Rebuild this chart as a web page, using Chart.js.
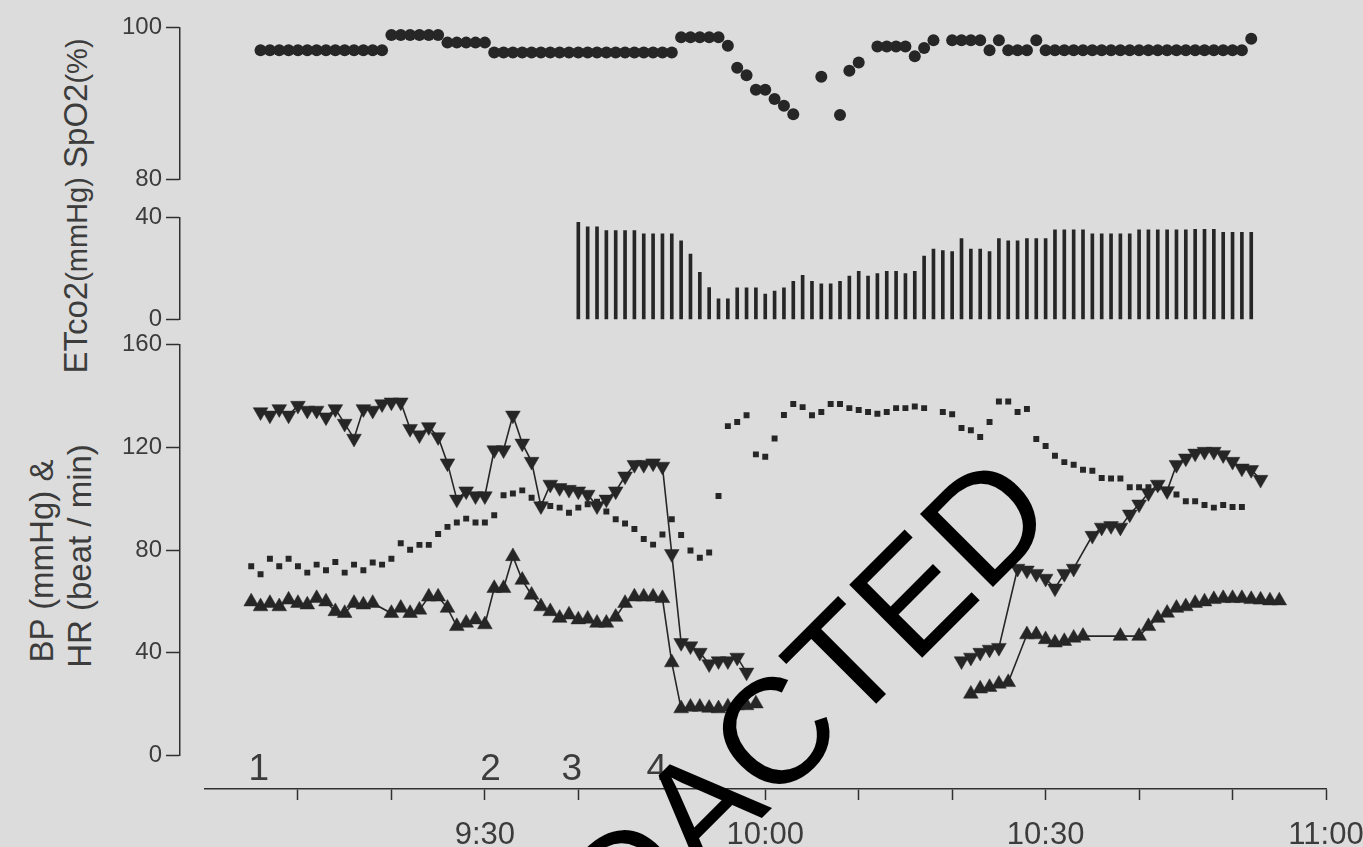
<!DOCTYPE html>
<html>
<head>
<meta charset="utf-8">
<script src="https://cdn.jsdelivr.net/npm/chart.js@4.4.1/dist/chart.umd.min.js"></script>
<style>
  html, body { margin: 0; padding: 0; }
  body { width: 1363px; height: 847px; background: #dcdcdc; position: relative; overflow: hidden;
         font-family: 'Liberation Sans', Arial, sans-serif; }
  canvas { position: absolute; left: 0; }
  .ytitle { position: absolute; color: #3c3c3c; white-space: nowrap; font-size: 33px;
            transform: translate(-50%, -50%) rotate(-90deg); }
  .ytitle small { font-size: 29px; }
</style>
</head>
<body>
<div class="ytitle" style="left:76px; top:206px;">ETco2<small>(mmHg)</small> SpO2<small>(%)</small></div>
<div class="ytitle" style="left:42px; top:561px;">BP (mmHg) &amp;</div>
<div class="ytitle" style="left:80px; top:556px;">HR (beat / min)</div>

<canvas id="spo2Chart" width="1363" height="189" style="top:9px"></canvas>
<canvas id="co2Chart" width="1363" height="139" style="top:199px"></canvas>
<canvas id="bpChart" width="1363" height="448" style="top:325.5px"></canvas>
<canvas id="timeAxis" width="1363" height="107" style="top:740px"></canvas>
<canvas id="stamp" width="1363" height="847" style="top:0"></canvas>

<script>
// one reading per minute, minute 0 = 9:00
var minutes = Array.from({ length: 121 }, function (_, i) { return i; });

var spo2 = [
    null, null, null, null, null, null, 97, 97, 97, 97,
    97, 97, 97, 97, 97, 97, 97, 97, 97, 97,
    99, 99, 99, 99, 99, 99, 98, 98, 98, 98,
    98, 96.7, 96.7, 96.7, 96.7, 96.7, 96.7, 96.7, 96.7, 96.7,
    96.7, 96.7, 96.7, 96.7, 96.7, 96.7, 96.7, 96.7, 96.7, 96.7,
    96.7, 98.7, 98.7, 98.7, 98.7, 98.7, 97.6, 94.7, 93.7, 91.8,
    91.8, 90.6, 89.7, 88.6, null, null, 93.5, null, 88.5, 94.3,
    95.4, null, 97.5, 97.5, 97.5, 97.5, 96.2, 97.3, 98.3, null,
    98.3, 98.3, 98.3, 98.3, 97, 98.3, 97, 97, 97, 98.3,
    97, 97, 97, 97, 97, 97, 97, 97, 97, 97,
    97, 97, 97, 97, 97, 97, 97, 97, 97, 97,
    97, 97, 98.5, null, null, null, null, null, null, null, null
];

var etco2 = [
    null, null, null, null, null, null, null, null, null, null,
    null, null, null, null, null, null, null, null, null, null,
    null, null, null, null, null, null, null, null, null, null,
    null, null, null, null, null, null, null, null, null, null,
    38.1, 36.3, 36.3, 34.8, 34.8, 34.8, 34.8, 33.6, 33.6, 33.6,
    33.6, 30.8, 25.6, 18.5, 12.5, 8.1, 8.1, 12.4, 12.4, 12.4,
    10, 11.2, 12.4, 15, 17.3, 15, 14, 14, 15, 17,
    18.9, 17, 18, 18.9, 18.9, 18, 18.9, 24.9, 27.6, 27,
    26.6, 31.7, 27.6, 27.6, 26.6, 31.7, 30.8, 30.8, 31.7, 31.7,
    31.7, 35.1, 35.1, 35.1, 35.1, 33.6, 33.6, 33.6, 33.6, 33.6,
    35.1, 35.1, 35.1, 35.1, 35.1, 35.1, 35.3, 35.3, 35.3, 34.2,
    34.2, 34.2, 34.2, null, null, null, null, null, null, null, null
];

var sysBP = [
    null, null, null, null, null, null, 133.7, 132.4, 134.9, 132.4,
    136.2, 134.3, 134.3, 131.7, 134.9, 129.2, 123.4, 134.9, 134.3, 136.8,
    137.5, 137.5, 127.2, 124.7, 127.9, 124, 113.8, 99.7, 102.9, 101,
    101, 118.9, 118.9, 132.4, 121.5, 114.4, 97.1, 105.5, 104.2, 103.5,
    102.9, 101.6, 97.1, 99.7, 102.9, 108.7, 113.2, 113.2, 113.8, 112.5,
    78.5, 43.9, 42.6, 40.1, 35.6, 36.8, 36.8, 38.2, 32.4, null,
    null, null, null, null, null, null, null, null, null, null,
    null, null, null, null, null, null, null, null, null, null,
    null, 36.8, 38.2, 40.1, 41.3, 42, null, 72.8, 72.1, 70.8,
    68.9, 65.1, 70.8, 72.8, null, 85.6, 88.8, 89.4, 88.8, 93.9,
    97.8, 102.2, 105.5, 103, 113.2, 115.7, 117.6, 118.3, 118.3, 117,
    114.4, 111.8, 111.2, 107.4, null, null, null, null, null, null, null
];

var diaBP = [
    null, null, null, null, null, 59.9, 58, 59.3, 58, 60.6,
    59.3, 58.7, 61.2, 59.9, 56.1, 55.4, 59.3, 58.7, 59.3, null,
    55.4, 57.4, 55.4, 56.7, 61.8, 61.8, 57.4, 50.3, 51.6, 52.9,
    51, 65.1, 65.1, 77.5, 68.3, 62.5, 58, 56.1, 53.5, 54.8,
    52.9, 53.2, 51.6, 51.6, 53.9, 59.3, 61.8, 61.8, 61.8, 61.2,
    36.2, 18.3, 18.9, 18.9, 18.5, 18.3, 19, 19.5, 19.5, 20.2,
    null, null, null, null, null, null, null, null, null, null,
    null, null, null, null, null, null, null, null, null, null,
    null, null, 24, 26, 26.6, 27.9, 28.5, null, 47.1, 47.1,
    45.2, 43.9, 44.5, 45.8, 46.5, null, null, null, 46.5, null,
    46.5, 50.3, 53.5, 55.5, 57.4, 58, 59.3, 59.9, 60.8, 61.2,
    61.2, 61.2, 60.8, 60.6, 60.3, 60.3, null, null, null, null, null
];

var heartRate = [
    null, null, null, null, null, 73.7, 70.6, 76.6, 73.7, 76.6,
    73.7, 71.2, 74.3, 72.1, 75.3, 71.2, 74.3, 72.1, 75.1, 74.3,
    76.6, 82.6, 80.1, 82, 82, 86.2, 89, 90.7, 92.2, 90.7,
    90.7, 93.5, 101.3, 102, 103.2, 100.3, 97.8, 97.1, 96.5, 94.5,
    96.5, 97.8, 98.8, 95, 92, 90.3, 88.2, 84.3, 82.1, 86,
    92, 85.8, 79.8, 77, 79, 101, 128.2, 129.8, 132.4, 117.2,
    116.3, 123.4, 132.5, 136.8, 135.6, 132.4, 133.7, 136.8, 136.8, 135.2,
    134.5, 133.7, 133, 133.7, 135.2, 135.2, 135.8, 135.2, null, 133.7,
    132.8, 127.5, 126.6, 124, 129.8, 137.8, 137.8, 133.7, 134.9, 123.2,
    120.5, 116.7, 114.2, 113.2, 111.2, 110.8, 108, 107.8, 107.8, 104.4,
    104.4, 104.4, 104.4, 103, 101.6, 99, 99, 97.5, 96.5, 97.5,
    96.7, 96.7, null, null, null, null, null, null, null, null, null
];

var tickMinutes = [10, 20, 30, 40, 50, 60, 70, 80, 90, 100, 110, 120];
var tickLabels = { 30: '9:30', 60: '10:00', 90: '10:30', 120: '11:00' };
var eventMinutes = [5.8, 30.6, 39.3, 48.4];
var eventLabels = ['1', '2', '3', '4'];

var ink = '#262626';
var axisColor = '#303030';
var textColor = '#3c3c3c';
var fontFamily = "'Liberation Sans', Arial, sans-serif";
// panels start a little left of 9:00 so the y axis sits apart from the time axis
var panelMinX = -2.62;

// blood pressure lines: leave missing minutes out so short gaps are bridged, long ones are not
var points = function (values) {
    return minutes
        .map(function (m, i) { return { x: m, y: values[i] }; })
        .filter(function (p) { return p.y !== null; });
};

var yAxis = function (min, max, step) {
    return {
        min: min,
        max: max,
        ticks: { stepSize: step, color: textColor, padding: 4, font: { family: fontFamily, size: 24 } },
        grid: { drawOnChartArea: false, tickLength: 14, tickColor: axisColor, tickWidth: 1.5 },
        border: { color: axisColor, width: 1.5 },
        afterFit: function (scale) { scale.width = 180; }
    };
};

var panelOptions = function (y) {
    return {
        responsive: false,
        animation: false,
        events: [],
        layout: { padding: { top: 16, bottom: 16, left: 0, right: 37 } },
        plugins: { legend: { display: false }, tooltip: { enabled: false } },
        scales: {
            x: { type: 'linear', min: panelMinX, max: 120, offset: false, display: false },
            y: y
        }
    };
};

new Chart(document.getElementById('spo2Chart'), {
    type: 'line',
    data: {
        labels: minutes,
        datasets: [{
            data: spo2,
            showLine: false,
            pointRadius: 6,
            pointBackgroundColor: ink,
            pointBorderWidth: 0
        }]
    },
    options: panelOptions(yAxis(80, 100, 20))
});

new Chart(document.getElementById('co2Chart'), {
    type: 'bar',
    data: {
        labels: minutes,
        datasets: [{
            data: etco2,
            backgroundColor: ink,
            barThickness: 3
        }]
    },
    options: panelOptions(yAxis(0, 40, 40))
});

new Chart(document.getElementById('bpChart'), {
    type: 'line',
    data: {
        labels: minutes,
        datasets: [{
            data: heartRate,
            showLine: false,
            pointStyle: 'rect',
            pointRadius: 4.2,
            pointBackgroundColor: ink,
            pointBorderWidth: 0
        }, {
            data: points(sysBP),
            borderColor: ink,
            borderWidth: 1.6,
            spanGaps: 5,
            pointStyle: 'triangle',
            pointRotation: 180,
            pointRadius: 8.5,
            pointBackgroundColor: ink,
            pointBorderColor: ink,
            pointBorderWidth: 0.5
        }, {
            data: points(diaBP),
            borderColor: ink,
            borderWidth: 1.6,
            spanGaps: 5,
            pointStyle: 'triangle',
            pointRadius: 8.5,
            pointBackgroundColor: ink,
            pointBorderColor: ink,
            pointBorderWidth: 0.5
        }]
    },
    options: panelOptions(yAxis(0, 160, 40))
});

var eventLabelsPlugin = {
    id: 'eventLabels',
    afterDraw: function (chart) {
        var ctx = chart.ctx;
        var x = chart.scales.x;
        ctx.save();
        ctx.font = '37px ' + fontFamily;
        ctx.fillStyle = textColor;
        ctx.textAlign = 'center';
        ctx.textBaseline = 'alphabetic';
        eventMinutes.forEach(function (m, i) {
            ctx.fillText(eventLabels[i], x.getPixelForValue(m), 40);
        });
        ctx.restore();
    }
};

new Chart(document.getElementById('timeAxis'), {
    type: 'line',
    data: { labels: [], datasets: [] },
    plugins: [eventLabelsPlugin],
    options: {
        responsive: false,
        animation: false,
        events: [],
        layout: { padding: { top: 10, bottom: 0, left: 204.5, right: 37 } },
        plugins: { legend: { display: false }, tooltip: { enabled: false } },
        scales: {
            x: {
                type: 'linear',
                min: 0,
                max: 120,
                afterBuildTicks: function (scale) {
                    scale.ticks = tickMinutes.map(function (v) { return { value: v }; });
                },
                ticks: {
                    autoSkip: false,
                    maxRotation: 0,
                    padding: 17,
                    color: textColor,
                    font: { family: fontFamily, size: 31 },
                    callback: function (value) { return tickLabels[value] || ''; }
                },
                grid: { drawOnChartArea: false, tickLength: 11, tickColor: axisColor, tickWidth: 1.5 },
                border: { color: axisColor, width: 1.5 },
                // keep 11:00 on the same pixel as the panels above; its label may run to the edge
                afterFit: function (scale) {
                    scale.height = 58;
                    scale.paddingLeft = 0;
                    scale.paddingRight = 0;
                }
            },
            y: { display: false }
        }
    }
});

// the redaction stamp lying across the picture
var stamp = document.getElementById('stamp').getContext('2d');
stamp.translate(477.5, 1102.5);
stamp.rotate(-Math.PI / 4);
stamp.font = '150px ' + fontFamily;
stamp.fillStyle = '#000';
stamp.fillText('REDACTED', 0, 0);
</script>
</body>
</html>
